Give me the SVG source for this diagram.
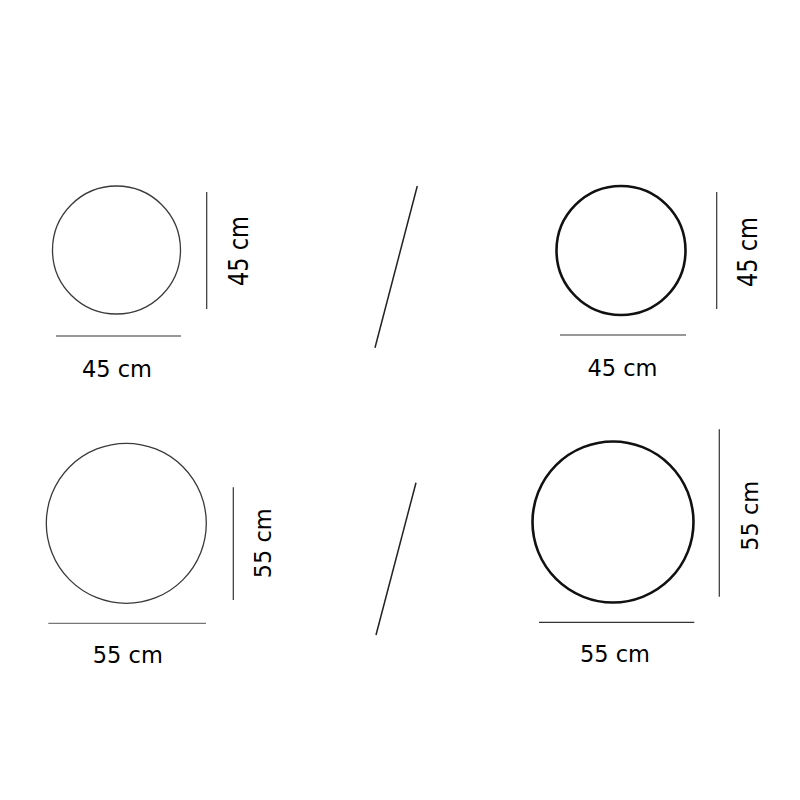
<svg xmlns="http://www.w3.org/2000/svg" width="800" height="800" viewBox="0 0 800 800">
<style>
.thin{fill:none;stroke:#3a3a3a;stroke-width:1.3}
.thick{fill:none;stroke:#111;stroke-width:2.6}
.dim{fill:none;stroke:#333;stroke-width:1.2}
.slash{fill:none;stroke:#222;stroke-width:1.5}
text{font-family:"DejaVu Sans",Verdana,sans-serif;font-size:22.5px;fill:#000;text-anchor:middle}
</style>
<rect width="800" height="800" fill="#fff"/>
<g id="circle-45-thin">
<circle class="thin" cx="116.5" cy="250" r="64"/>
<line class="dim" x1="206.7" y1="192" x2="206.7" y2="309"/>
<line class="dim" x1="56" y1="336" x2="181" y2="336"/>
<text x="117" y="377">45 cm</text>
<text transform="translate(248,251) rotate(-90) scale(1,1.2)">45 cm</text>
</g>
<g id="circle-45-thick">
<circle class="thick" cx="621" cy="250.5" r="64.5"/>
<line class="dim" x1="716.7" y1="192" x2="716.7" y2="309"/>
<line class="dim" x1="560" y1="335" x2="686" y2="335"/>
<text x="622.5" y="376">45 cm</text>
<text transform="translate(757,252) rotate(-90) scale(1,1.2)">45 cm</text>
</g>
<g id="circle-55-thin">
<circle class="thin" cx="126.3" cy="523.3" r="80"/>
<line class="dim" x1="233.3" y1="487.3" x2="233.3" y2="600"/>
<line class="dim" x1="48.3" y1="623.3" x2="206" y2="623.3" style="stroke:#777"/>
<text x="127.8" y="663">55 cm</text>
<text transform="translate(270.7,543.3) rotate(-90)">55 cm</text>
</g>
<g id="circle-55-thick">
<circle class="thick" cx="613" cy="522" r="80.5"/>
<line class="dim" x1="719.3" y1="429.3" x2="719.3" y2="596.7"/>
<line class="dim" x1="539" y1="622.3" x2="694.3" y2="622.3"/>
<text x="615" y="661.7">55 cm</text>
<text transform="translate(758.3,515.8) rotate(-90)">55 cm</text>
</g>
<g id="connectors">
<line class="slash" x1="417.3" y1="186" x2="375" y2="347.7"/>
<line class="slash" x1="416" y1="482.7" x2="376" y2="635"/>
</g>
</svg>
